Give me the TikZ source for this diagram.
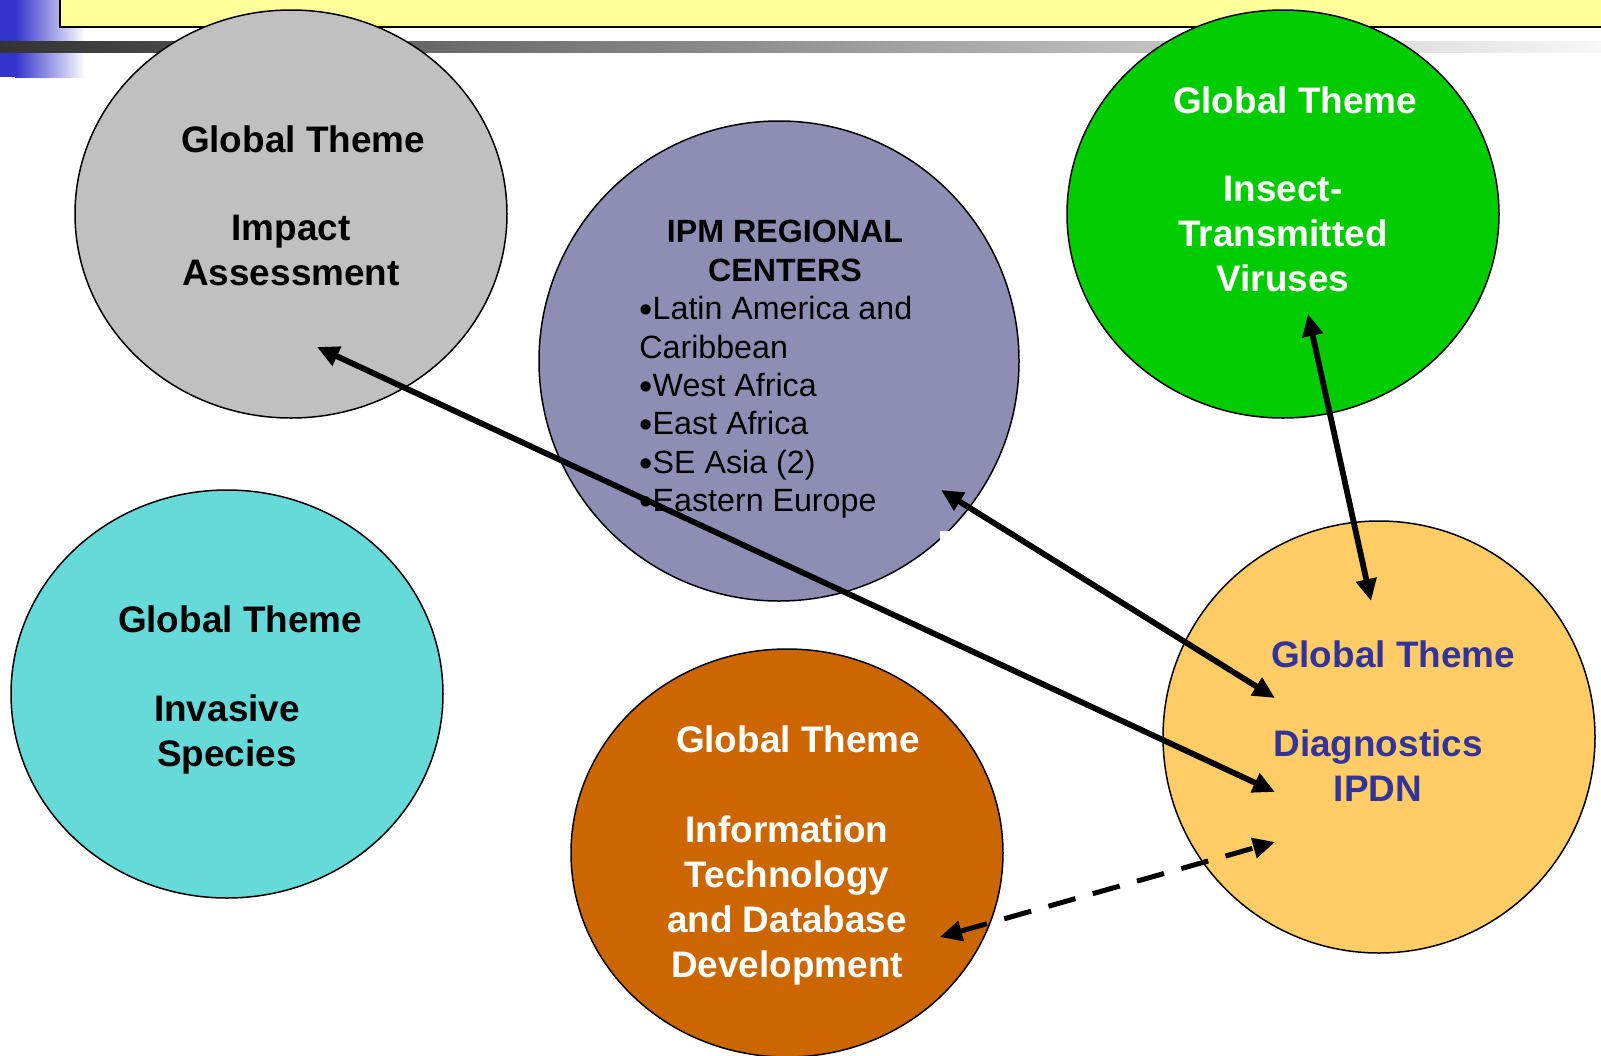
\documentclass[tikz,border=0pt]{standalone}
\usepackage{fontspec}
\setmainfont{Liberation Sans}
\usepackage{xcolor}
\usetikzlibrary{shapes.geometric,arrows.meta}
\definecolor{banner}{HTML}{FFFF99}
\definecolor{impgray}{HTML}{C0C0C0}
\definecolor{ipmblue}{HTML}{8E8EB5}
\definecolor{virgreen}{HTML}{00CC00}
\definecolor{invcyan}{HTML}{66D9D9}
\definecolor{itorange}{HTML}{CC6600}
\definecolor{ipdnyellow}{HTML}{FFCC66}
\definecolor{ipdntext}{HTML}{333399}
\definecolor{slideblue}{HTML}{3333CC}
\newcommand\ipmbul{\raisebox{-1.5pt}{\fontsize{19}{19.2}\selectfont •}}

\begin{document}
\begin{tikzpicture}[x=0.5pt,y=-0.5pt,
  theme/.style={ellipse,draw=black,line width=0.75pt,inner sep=0pt,minimum width=216pt,minimum height=204pt},
  ttl/.style={inner sep=0pt,font=\bfseries\fontsize{18.45}{22.5}\selectfont},
  body/.style={ttl,align=center},
  ipm/.style={inner sep=0pt,font=\fontsize{16.1}{19.2}\selectfont},
  ipmttl/.style={inner sep=0pt,align=center,font=\bfseries\fontsize{16.1}{19.2}\selectfont},
  link/.style={line width=2.9pt,{Triangle[length=11pt,width=10pt]}-{Triangle[length=11pt,width=10pt]}}]
\useasboundingbox (0,0) rectangle (1601,1055);
% slide header
\fill[slideblue] (0,0) rectangle (15,77);
\shade[left color=slideblue,right color=white] (15,0) rectangle (85,77);
\shade[left color=black!80,right color=black!3] (0,41) rectangle (1601,52);
\draw[fill=banner,line width=0.75pt] (60,-10) rectangle (1620,27);

% themes
\node[theme,fill=impgray] (imp) at (291,214) {};
\node[theme,fill=ipmblue,minimum width=240pt,minimum height=240pt] (ipm) at (779,361) {};
\node[theme,fill=virgreen] (vir) at (1283,214) {};
\node[theme,fill=invcyan] (inv) at (227,694) {};
\node[theme,fill=itorange] (it) at (787,853) {};
\node[theme,fill=ipdnyellow,minimum height=216pt] (ipdn) at (1379,737) {};
\fill[white] (940,531) rectangle (950,541);

\node[ttl] (impT) at (303,139) {Global Theme};
\node[body] (impB) at (291,250) {Impact\\Assessment};
\node[ipmttl] (ipmT) at (785,251) {IPM REGIONAL\\CENTERS};
\node[ipm,align=left,anchor=north west] (ipmB) at (639,296) {\ipmbul Latin America and\\Caribbean\\\ipmbul West Africa\\\ipmbul East Africa\\\ipmbul SE Asia (2)\\\ipmbul Eastern Europe};
\node[ttl,white] (virT) at (1295,100) {Global Theme};
\node[body,white] (virB) at (1283,234) {Insect-\\Transmitted\\Viruses};
\node[ttl] (invT) at (240,619) {Global Theme};
\node[body] (invB) at (227,734) {Invasive\\Species};
\node[ttl,white] (itT) at (798,739) {Global Theme};
\node[body,white] (itB) at (787,900) {Information\\Technology\\and Database\\Development};
\node[ttl,ipdntext] (ipdnT) at (1393,654) {Global Theme};
\node[body,ipdntext] (ipdnB) at (1378,766) {Diagnostics\\IPDN};

% links to IPDN
\coordinate (impTip) at (317,347);
\coordinate (ipdnA) at (1275,792);
\coordinate (ipmTip) at (941,490);
\coordinate (ipdnB) at (1275,698);
\coordinate (virTip) at (1308,314);
\coordinate (ipdnC) at (1371,601);
\coordinate (itTip) at (940,937);
\coordinate (ipdnD) at (1275,842);
\draw[link] (impTip) -- (ipdnA);
\draw[link] (ipmTip) -- (ipdnB);
\draw[link] (virTip) -- (ipdnC);
\draw[link,line width=2.5pt,dash pattern=on 14pt off 9pt] (itTip) -- (ipdnD);
\end{tikzpicture}
\end{document}
